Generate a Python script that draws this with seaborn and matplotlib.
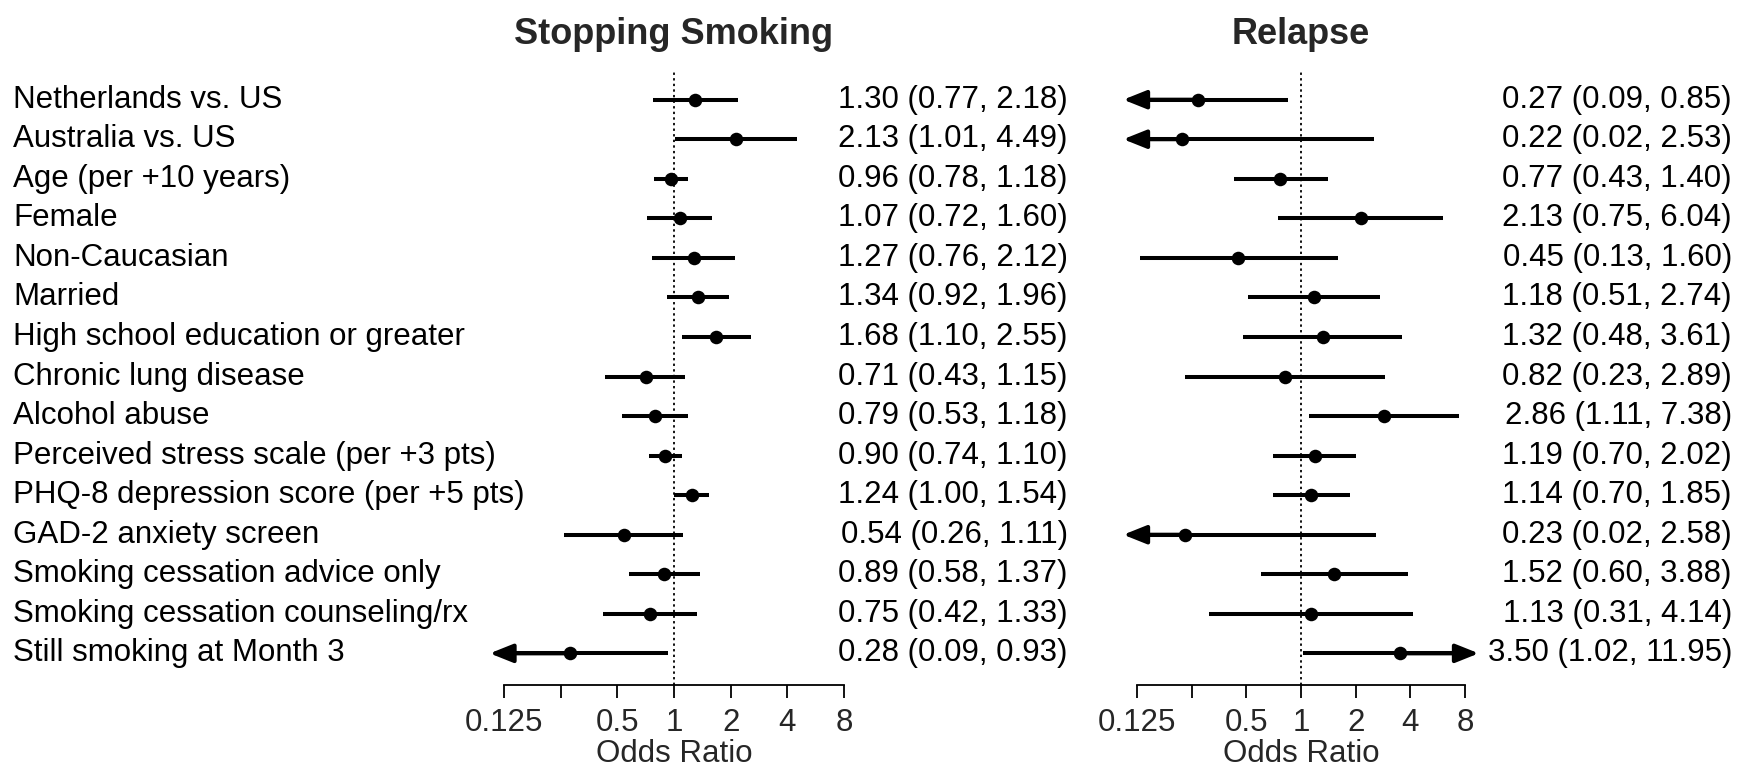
import numpy as np
import pandas as pd
import matplotlib
matplotlib.use("Agg")
import matplotlib.pyplot as plt
import matplotlib.transforms as mtransforms
import seaborn as sns

# Row labels (top to bottom)
labels = [
    "Netherlands vs. US",
    "Australia vs. US",
    "Age (per +10 years)",
    "Female",
    "Non-Caucasian",
    "Married",
    "High school education or greater",
    "Chronic lung disease",
    "Alcohol abuse",
    "Perceived stress scale (per +3 pts)",
    "PHQ-8 depression score (per +5 pts)",
    "GAD-2 anxiety screen",
    "Smoking cessation advice only",
    "Smoking cessation counseling/rx",
    "Still smoking at Month 3",
]

# Stopping smoking: odds ratio, lower and upper 95% CI
stop_or = [1.30, 2.13, 0.96, 1.07, 1.27, 1.34, 1.68, 0.71, 0.79, 0.90, 1.24, 0.54, 0.89, 0.75, 0.28]
stop_lo = [0.77, 1.01, 0.78, 0.72, 0.76, 0.92, 1.10, 0.43, 0.53, 0.74, 1.00, 0.26, 0.58, 0.42, 0.09]
stop_hi = [2.18, 4.49, 1.18, 1.60, 2.12, 1.96, 2.55, 1.15, 1.18, 1.10, 1.54, 1.11, 1.37, 1.33, 0.93]

# Relapse
rel_or = [0.27, 0.22, 0.77, 2.13, 0.45, 1.18, 1.32, 0.82, 2.86, 1.19, 1.14, 0.23, 1.52, 1.13, 3.50]
rel_lo = [0.09, 0.02, 0.43, 0.75, 0.13, 0.51, 0.48, 0.23, 1.11, 0.70, 0.70, 0.02, 0.60, 0.31, 1.02]
rel_hi = [0.85, 2.53, 1.40, 6.04, 1.60, 2.74, 3.61, 2.89, 7.38, 2.02, 1.85, 2.58, 3.88, 4.14, 11.95]

ticks = [0.125, 0.25, 0.5, 1, 2, 4, 8]
tick_labels = ["0.125", "", "0.5", "1", "2", "4", "8"]
XMIN, XMAX = 0.125, 8
OVER = 1.19  # how far arrows poke past the axis range (ratio)

sns.set_theme(style="white")
plt.rcParams["font.family"] = ["Liberation Sans", "DejaVu Sans"]

W, H = 1741, 771
fig = plt.figure(figsize=(W / 100, H / 100), dpi=100)

FS = 22.5
LW = 2.9
ARROW = "-|>,head_length=0.7,head_width=0.28"


def px(x0, y0, w, h):
    # axes rect in pixels (from top-left) -> figure fraction
    return [x0 / W, 1 - (y0 + h) / H, w / W, h / H]


def forest(ax, est, lo, hi, text_x, title):
    df = pd.DataFrame({"row": np.arange(len(est)), "est": est, "lo": lo, "hi": hi})
    df["lo_c"] = df["lo"].clip(lower=XMIN)
    df["hi_c"] = df["hi"].clip(upper=XMAX)

    ax.set_xscale("log", base=2)
    ax.set_xlim(XMIN, XMAX)
    ax.set_ylim(len(est) - 0.2, -0.7)

    ax.axvline(1, color="black", lw=1.3, ls=(0, (1.3, 1.8)), zorder=1)
    ax.hlines(df["row"], df["lo_c"], df["hi_c"], color="black", lw=LW, zorder=2)

    for _, r in df.iterrows():
        if r["lo"] < XMIN:
            ax.annotate("", xy=(XMIN / OVER, r["row"]), xytext=(r["est"], r["row"]),
                        arrowprops=dict(arrowstyle=ARROW, mutation_scale=20, color="black",
                                        lw=LW, shrinkA=0, shrinkB=0),
                        annotation_clip=False)
        if r["hi"] > XMAX:
            ax.annotate("", xy=(XMAX * OVER, r["row"]), xytext=(r["est"], r["row"]),
                        arrowprops=dict(arrowstyle=ARROW, mutation_scale=20, color="black",
                                        lw=LW, shrinkA=0, shrinkB=0),
                        annotation_clip=False)

    sns.scatterplot(data=df, x="est", y="row", ax=ax, color="black", s=95,
                    edgecolor="black", linewidth=0, zorder=3, legend=False)

    # estimate text column, right aligned
    trans = mtransforms.blended_transform_factory(fig.transFigure, ax.transData)
    for _, r in df.iterrows():
        ax.text(text_x / W, r["row"], f"{r['est']:.2f} ({r['lo']:.2f}, {r['hi']:.2f})",
                transform=trans, ha="right", va="center", fontsize=FS, color="black")

    for s in ["top", "right", "left"]:
        ax.spines[s].set_visible(False)
    ax.spines["bottom"].set_color("black")
    ax.spines["bottom"].set_linewidth(1.3)
    ax.set_yticks([])
    ax.set_xticks(ticks)
    ax.set_xticklabels(tick_labels)
    ax.minorticks_off()
    ax.tick_params(axis="x", direction="out", length=9.5, width=1.3, color="black",
                   labelsize=FS, pad=7, bottom=True)
    ax.set_xlabel("Odds Ratio", fontsize=FS, labelpad=1)
    ax.set_ylabel("")
    ax.set_title(title, fontsize=26, fontweight="bold", pad=20)


ax1 = fig.add_axes(px(504, 72, 340, 613))
ax2 = fig.add_axes(px(1137, 72, 328, 613))

forest(ax1, stop_or, stop_lo, stop_hi, 1068, "Stopping Smoking")
forest(ax2, rel_or, rel_lo, rel_hi, 1732, "Relapse")

# row labels on the far left
trans = mtransforms.blended_transform_factory(fig.transFigure, ax1.transData)
for i, lab in enumerate(labels):
    ax1.text(13 / W, i, lab, transform=trans, ha="left", va="center", fontsize=FS, color="black")

fig.savefig("out.png", dpi=100, facecolor="white")
